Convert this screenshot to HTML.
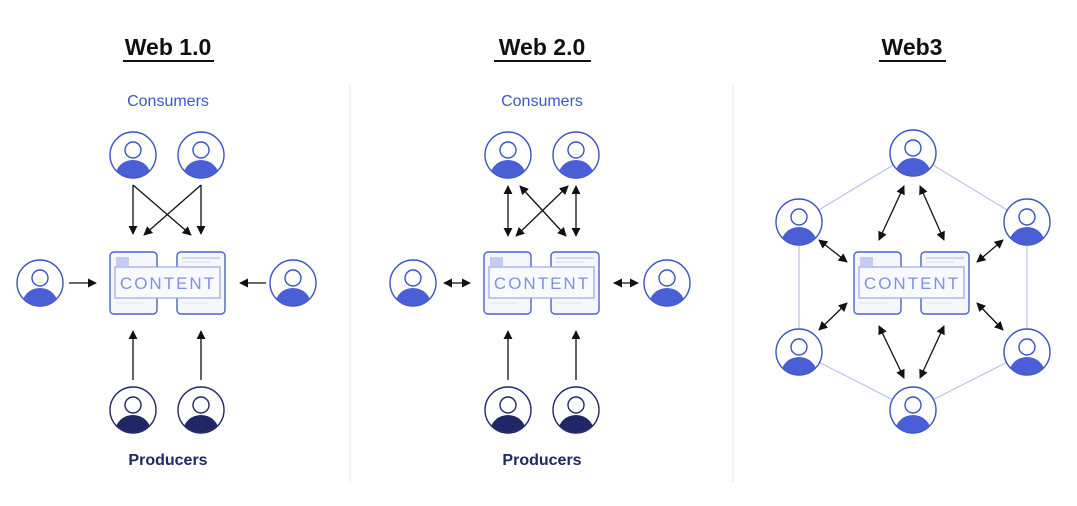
<!DOCTYPE html>
<html><head><style>
body{margin:0;background:#fff;}
svg{display:block;font-family:"Liberation Sans",sans-serif;}
</style></head><body>
<svg width="1077" height="506" viewBox="0 0 1077 506" xmlns="http://www.w3.org/2000/svg">
<defs>
<clipPath id="cc"><circle cx="0" cy="0" r="22.5"/></clipPath>
<g id="pc">
<circle r="23" fill="#fff" stroke="#3a52c4" stroke-width="1.4"/>
<g clip-path="url(#cc)"><ellipse cx="0" cy="22" rx="18" ry="17" fill="#4a5ed6"/></g>
<circle cx="0" cy="-5" r="8" fill="#fff" stroke="#3a52c4" stroke-width="1.4"/>
</g>
<g id="pp">
<circle r="23" fill="#fff" stroke="#1f2766" stroke-width="1.4"/>
<g clip-path="url(#cc)"><ellipse cx="0" cy="22" rx="18" ry="17" fill="#1f2766"/></g>
<circle cx="0" cy="-5" r="8" fill="#fff" stroke="#1f2766" stroke-width="1.4"/>
</g>
<g id="ct">
<rect x="-58" y="-31" width="47" height="62" rx="4" fill="#f6f7fd" stroke="#4a62cc" stroke-width="1.4"/>
<rect x="9" y="-31" width="48" height="62" rx="4" fill="#f6f7fd" stroke="#4a62cc" stroke-width="1.4"/>
<rect x="-52" y="-26" width="13" height="9" fill="#c4caf0"/>
<line x1="14" y1="-25" x2="52" y2="-25" stroke="#c4caf0" stroke-width="1.5"/>
<line x1="14" y1="-21" x2="42" y2="-21" stroke="#dde0f5" stroke-width="1.2"/>
<line x1="-52" y1="20" x2="-25" y2="20" stroke="#e3e6f7" stroke-width="1.2"/>
<line x1="14" y1="20" x2="40" y2="20" stroke="#e3e6f7" stroke-width="1.2"/>
<rect x="-53" y="-16" width="105" height="31" fill="#f9faff" stroke="#9aa6e6" stroke-width="1.2"/>
<text x="0" y="6" text-anchor="middle" font-size="17" letter-spacing="2" fill="#8090e0">CONTENT</text>
</g>
<marker id="a" viewBox="0 0 10 10" refX="9" refY="5" markerWidth="7" markerHeight="7" orient="auto-start-reverse"><path d="M0,0 L10,5 L0,10 z" fill="#111"/></marker>
</defs>

<line x1="350" y1="85" x2="350" y2="482" stroke="#e2e4ec" stroke-width="1"/>
<line x1="733" y1="85" x2="733" y2="482" stroke="#e2e4ec" stroke-width="1"/>

<g font-weight="bold" font-size="23" fill="#111" text-anchor="middle">
<text x="168" y="55">Web 1.0</text>
<text x="542" y="55">Web 2.0</text>
<text x="912" y="55">Web3</text>
</g>
<line x1="123" y1="61" x2="214" y2="61" stroke="#111" stroke-width="2"/>
<line x1="494" y1="61" x2="591" y2="61" stroke="#111" stroke-width="2"/>
<line x1="879" y1="61" x2="946" y2="61" stroke="#111" stroke-width="2"/>

<g font-size="16" text-anchor="middle">
<text x="168" y="106" fill="#3a55cc">Consumers</text>
<text x="542" y="106" fill="#3a55cc">Consumers</text>
<text x="168" y="465" fill="#1f2766" font-weight="bold">Producers</text>
<text x="542" y="465" fill="#1f2766" font-weight="bold">Producers</text>
</g>

<!-- Web 1.0 -->
<use href="#ct" x="168" y="283"/>
<use href="#pc" x="133" y="155"/><use href="#pc" x="201" y="155"/>
<use href="#pc" x="40" y="283"/><use href="#pc" x="293" y="283"/>
<use href="#pp" x="133" y="410"/><use href="#pp" x="201" y="410"/>
<g stroke="#111" stroke-width="1.3" marker-end="url(#a)">
<line x1="133" y1="185" x2="133" y2="234"/>
<line x1="201" y1="185" x2="201" y2="234"/>
<line x1="133" y1="185" x2="191" y2="235"/>
<line x1="201" y1="185" x2="144" y2="235"/>
<line x1="69" y1="283" x2="96" y2="283"/>
<line x1="266" y1="283" x2="240" y2="283"/>
<line x1="133" y1="380" x2="133" y2="331"/>
<line x1="201" y1="380" x2="201" y2="331"/>
</g>

<!-- Web 2.0 -->
<use href="#ct" x="542" y="283"/>
<use href="#pc" x="508" y="155"/><use href="#pc" x="576" y="155"/>
<use href="#pc" x="413" y="283"/><use href="#pc" x="667" y="283"/>
<use href="#pp" x="508" y="410"/><use href="#pp" x="576" y="410"/>
<g stroke="#111" stroke-width="1.3" marker-end="url(#a)" marker-start="url(#a)">
<line x1="508" y1="186" x2="508" y2="236"/>
<line x1="576" y1="186" x2="576" y2="236"/>
<line x1="516" y1="236" x2="568" y2="186"/>
<line x1="520" y1="186" x2="566" y2="236"/>
<line x1="444" y1="283" x2="470" y2="283"/>
<line x1="614" y1="283" x2="638" y2="283"/>
</g>
<g stroke="#111" stroke-width="1.3" marker-end="url(#a)">
<line x1="508" y1="380" x2="508" y2="331"/>
<line x1="576" y1="380" x2="576" y2="331"/>
</g>

<!-- Web3 -->
<g stroke="#bcc3ec" stroke-width="1.2" fill="none">
<polygon points="913,153 1027,222 1027,352 913,410 799,352 799,222"/>
</g>
<use href="#ct" x="912" y="283"/>
<use href="#pc" x="913" y="153"/><use href="#pc" x="1027" y="222"/>
<use href="#pc" x="1027" y="352"/><use href="#pc" x="913" y="410"/>
<use href="#pc" x="799" y="352"/><use href="#pc" x="799" y="222"/>
<g stroke="#111" stroke-width="1.3" marker-end="url(#a)" marker-start="url(#a)">
<line x1="904" y1="186" x2="879" y2="240"/>
<line x1="920" y1="186" x2="944" y2="240"/>
<line x1="819" y1="240" x2="847" y2="262"/>
<line x1="1003" y1="240" x2="977" y2="262"/>
<line x1="819" y1="330" x2="847" y2="303"/>
<line x1="1003" y1="330" x2="977" y2="303"/>
<line x1="879" y1="326" x2="904" y2="378"/>
<line x1="944" y1="326" x2="920" y2="378"/>
</g>
</svg>
</body></html>
